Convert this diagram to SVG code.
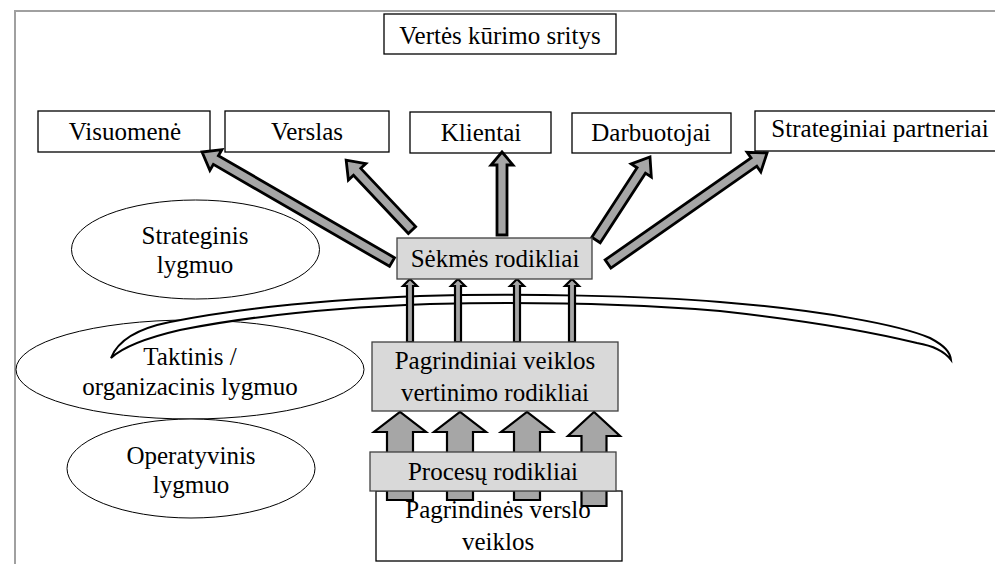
<svg xmlns="http://www.w3.org/2000/svg" width="995" height="564" viewBox="0 0 995 564" font-family="'Liberation Serif', 'Times New Roman', serif">
  <style>
    text { font-family: "Liberation Serif", "Times New Roman", serif; font-size: 25px; fill: #000; text-anchor: middle; }
    .box { fill: #fff; stroke: #000; stroke-width: 1.3; }
    .gbox { fill: #d9d9d9; stroke: #404040; stroke-width: 1.3; }
    .lvl { fill: #fff; stroke: #000; stroke-width: 1; }
    .arr { fill: #a6a6a6; stroke: #000; stroke-width: 2.8; stroke-linejoin: miter; }
    .thin { fill: #a6a6a6; stroke: #000; stroke-width: 2.2; }
    .frame { fill: none; stroke: #a0a0a0; stroke-width: 2; }
  </style>
  <defs>
    <!-- thin up-arrow, tip at origin -->
    <path id="thinUp" d="M-3,63 L-3,7 L-7,7 L0,0 L7,7 L3,7 L3,63 Z"/>
    <!-- wide block up-arrow, tip at origin -->
    <path id="blockUp" d="M-13,88 L-13,20 L-26,20 L0,0 L26,20 L13,20 L13,88 Z"/>
  </defs>

  <rect width="995" height="564" fill="#fff"/>

  <!-- page frame -->
  <path class="frame" d="M995,11 L15,11 L15,564"/>

  <!-- level ellipses -->
  <g id="level-strategic">
    <ellipse class="lvl" cx="195.5" cy="249.5" rx="124" ry="49.5"/>
    <text x="195" y="244">Strateginis</text>
    <text x="195" y="273">lygmuo</text>
  </g>
  <g id="level-tactical">
    <ellipse class="lvl" cx="190" cy="369.5" rx="174" ry="49.5"/>
    <text x="190" y="365">Taktinis /</text>
    <text x="190" y="395">organizacinis lygmuo</text>
  </g>
  <g id="level-operational">
    <ellipse class="lvl" cx="191" cy="468.5" rx="124" ry="49.5"/>
    <text x="191" y="464">Operatyvinis</text>
    <text x="191" y="493">lygmuo</text>
  </g>

  <!-- curved band separating levels -->
  <g id="band">
    <path d="M111,358 C118,340 140,328 170,322 C230,310 320,300 420,296 C520,293 650,296 720,302 C820,310 900,325 930,338 C945,346 950,352 951,360 C945,352 935,346 917,343 C880,334 820,322 720,311 C620,303 520,302 430,304 C320,308 240,318 180,330 C150,337 125,345 111,358 Z" fill="#fff" stroke="#000" stroke-width="2"/>
  </g>

  <!-- value creation areas -->
  <g id="title">
    <rect class="box" x="384" y="14" width="232" height="40"/>
    <text x="500" y="44">Vertės kūrimo sritys</text>
  </g>
  <g id="visuomene">
    <rect class="box" x="38" y="111" width="172" height="41"/>
    <text x="125" y="140">Visuomenė</text>
  </g>
  <g id="verslas">
    <rect class="box" x="225" y="111" width="164" height="41"/>
    <text x="307" y="140">Verslas</text>
  </g>
  <g id="klientai">
    <rect class="box" x="410" y="112" width="141" height="41"/>
    <text x="481" y="141">Klientai</text>
  </g>
  <g id="darbuotojai">
    <rect class="box" x="572" y="113" width="159" height="40"/>
    <text x="651" y="141">Darbuotojai</text>
  </g>
  <g id="partneriai">
    <rect class="box" x="755" y="111" width="250" height="40"/>
    <text x="880" y="137">Strateginiai partneriai</text>
  </g>

  <!-- connectors -->
  <g id="connectors">
    <!-- from success indicators to the value areas -->
    <g transform="translate(392,262) rotate(-149.93)">
      <path class="arr" d="M0,-5 L203.5,-5 L203.5,-12 L219.5,0 L203.5,12 L203.5,5 L0,5 Z"/>
    </g>
    <g transform="translate(412,230) rotate(-133.3)">
      <path class="arr" d="M0,-5 L80,-5 L80,-12 L96,0 L80,12 L80,5 L0,5 Z"/>
    </g>
    <g transform="translate(502,235) rotate(-90)">
      <path class="arr" d="M0,-5 L70,-5 L70,-11 L83,0 L70,11 L70,5 L0,5 Z"/>
    </g>
    <g transform="translate(596,240) rotate(-56.95)">
      <path class="arr" d="M0,-5 L83,-5 L83,-12 L99,0 L83,12 L83,5 L0,5 Z"/>
    </g>
    <g transform="translate(608,264) rotate(-34.92)">
      <path class="arr" d="M0,-5 L178,-5 L178,-12 L194,0 L178,12 L178,5 L0,5 Z"/>
    </g>

    <!-- from key performance indicators up to success indicators -->
    <use href="#thinUp" class="thin" x="410" y="279"/>
    <use href="#thinUp" class="thin" x="458" y="279"/>
    <use href="#thinUp" class="thin" x="517" y="279"/>
    <use href="#thinUp" class="thin" x="572" y="279"/>
  </g>

  <g id="sekmes">
    <rect class="gbox" x="397" y="238" width="195" height="41"/>
    <text x="495" y="267">Sėkmės rodikliai</text>
  </g>

  <g id="veiklos">
    <rect class="box" x="376" y="491" width="246" height="70"/>
    <text x="498" y="518">Pagrindinės verslo</text>
    <text x="498" y="550">veiklos</text>
  </g>

  <!-- block arrows from processes up to key indicators -->
  <g id="block-arrows">
    <use href="#blockUp" class="thin" x="400" y="412"/>
    <use href="#blockUp" class="thin" x="460" y="412"/>
    <use href="#blockUp" class="thin" x="527" y="412"/>
    <path class="thin" d="M581.5,506 L581.5,436 L568,436 L594,412 L620,436 L606.5,436 L606.5,506 Z"/>
  </g>

  <g id="procesu">
    <rect class="gbox" x="370" y="452" width="246" height="39"/>
    <text x="493" y="480">Procesų rodikliai</text>
  </g>

  <g id="kpi">
    <rect class="gbox" x="372" y="342" width="246" height="69"/>
    <text x="495" y="369">Pagrindiniai veiklos</text>
    <text x="495" y="401">vertinimo rodikliai</text>
  </g>
</svg>
